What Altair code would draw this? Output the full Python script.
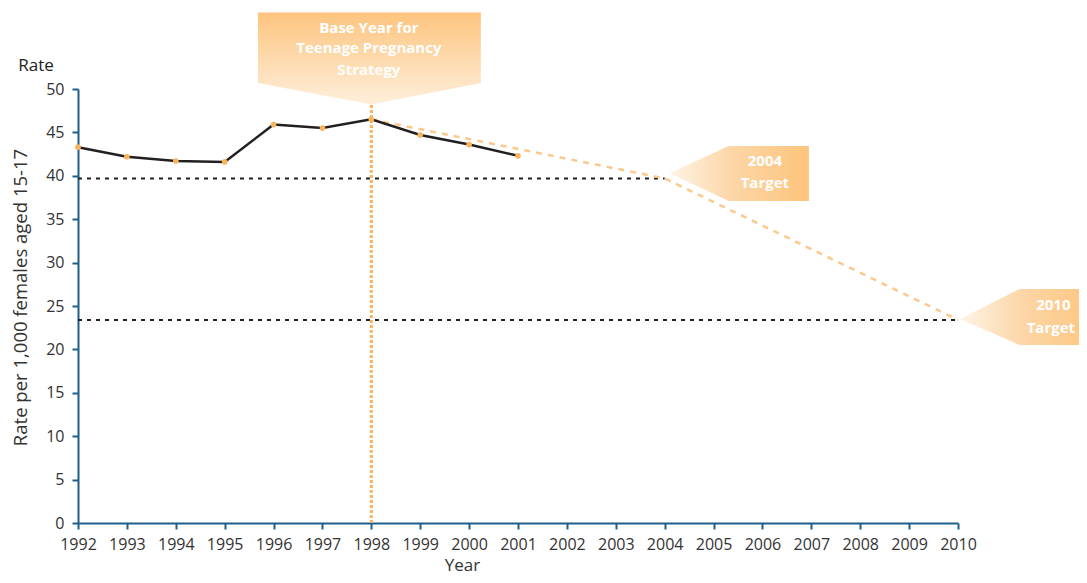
import altair as alt
import pandas as pd

# ---- data ----
years = [1992, 1993, 1994, 1995, 1996, 1997, 1998, 1999, 2000, 2001]
rates = [43.3, 42.2, 41.7, 41.6, 45.9, 45.5, 46.5, 44.7, 43.6, 42.3]

target_years = [1998, 2004, 2010]
target_rates = [46.5, 39.7, 23.4]

ref_start = [1992, 1992]
ref_end = [2004, 2010]
ref_level = [39.7, 23.4]

base_year = 1998
base_line_top = 49

# callout shapes (data coordinates)
base_x = [1995.68, 1998.0, 2000.24]
base_top = [58.8, 58.8, 58.8]
base_bottom = [50.7, 48.2, 50.7]

tgt_group = ["2004", "2004", "2004", "2010", "2010", "2010"]
tgt_x = [2004.1, 2005.31, 2006.95, 2010.04, 2011.26, 2012.9]
tgt_top = [40.3, 43.43, 43.43, 23.5, 26.96, 26.96]
tgt_bottom = [40.3, 37.1, 37.1, 23.5, 20.5, 20.5]

label_text = ["Base Year for", "Teenage Pregnancy", "Strategy", "2004", "Target", "2010", "Target"]
label_x = [1997.95, 1997.95, 1997.95, 2006.05, 2006.05, 2011.95, 2011.9]
label_y = [57.0, 54.7, 52.2, 41.7, 39.2, 25.1, 22.5]

FONT = "Open Sans"
AXIS_BLUE = "#1d5e8a"
ORANGE = "#F8B35C"
LIGHT_ORANGE = "#FCC98C"
DARK = "#231f20"

x_axis = alt.Axis(
    values=[1992 + i * 0.5 for i in range(37)],
    labelExpr="datum.value % 1 == 0 ? datum.label : ''",
    format="d", labelAngle=0, grid=False, labelOverlap=False, labelFlush=False,
    domainColor=AXIS_BLUE, domainWidth=2, tickColor=AXIS_BLUE, tickWidth=2, tickSize=6,
    labelFont=FONT, labelFontSize=16, labelColor="#333333", labelPadding=7,
    title="Year", titleFont=FONT, titleFontSize=17, titleFontWeight="normal", titleColor="#333333",
    titleX=384, titleY=51, titleAnchor="middle", titleBaseline="bottom",
)
y_axis = alt.Axis(
    values=list(range(0, 51, 5)), grid=False,
    domainColor=AXIS_BLUE, domainWidth=2, tickColor=AXIS_BLUE, tickWidth=2, tickSize=6,
    labelFont=FONT, labelFontSize=16, labelColor="#333333", labelPadding=8,
    title="Rate per 1,000 females aged 15-17", titleFont=FONT, titleFontSize=18.5,
    titleFontWeight="normal", titleColor="#333333",
    titleX=-58, titleY=208, titleAngle=-90, titleAlign="center", titleBaseline="middle",
)
xs = alt.Scale(domain=[1992, 2010], nice=False, zero=False)
ys = alt.Scale(domain=[0, 50], nice=False, zero=True)


def X(field):
    return alt.X(field, type="quantitative", scale=xs, axis=x_axis)


def Y(field):
    return alt.Y(field, type="quantitative", scale=ys, axis=y_axis)


line_df = pd.DataFrame({"Year": years, "Rate": rates})
traj_df = pd.DataFrame({"Year": target_years, "Rate": target_rates})
ref_df = pd.DataFrame({"Year": ref_start, "Year2": ref_end, "Rate": ref_level})
base_df = pd.DataFrame({"Year": [base_year], "Rate": [0], "Rate2": [base_line_top]})
base_call_df = pd.DataFrame({"Year": base_x, "Rate": base_top, "Rate2": base_bottom})
tgt_df = pd.DataFrame({"g": tgt_group, "Year": tgt_x, "Rate": tgt_top, "Rate2": tgt_bottom})
lab_df = pd.DataFrame({"Year": label_x, "Rate": label_y, "t": label_text})
rate_df = pd.DataFrame({"Year": [1991.14], "Rate": [52.07], "t": ["Rate"]})

refs = alt.Chart(ref_df).mark_rule(color=DARK, strokeWidth=2, strokeDash=[4, 5]).encode(
    x=X("Year"), x2="Year2", y=Y("Rate"))

base_rule = alt.Chart(base_df).mark_rule(color=ORANGE, strokeWidth=3, strokeDash=[3, 2]).encode(
    x=X("Year"), y=Y("Rate"), y2="Rate2")

traj = alt.Chart(traj_df).mark_line(color=LIGHT_ORANGE, strokeWidth=2.5, strokeDash=[6, 6]).encode(
    x=X("Year"), y=Y("Rate"))

line = alt.Chart(line_df).mark_line(color=DARK, strokeWidth=2.5).encode(
    x=X("Year"), y=Y("Rate"))

pts = alt.Chart(line_df).mark_circle(color=ORANGE, size=32, opacity=1).encode(
    x=X("Year"), y=Y("Rate"))

base_call = alt.Chart(base_call_df).mark_area(
    clip=False,
    color=alt.Gradient(gradient="linear", x1=0, x2=0, y1=0, y2=1,
                       stops=[alt.GradientStop(color="#FDC47E", offset=0),
                              alt.GradientStop(color="#FEEFDB", offset=1)]),
).encode(x=X("Year"), y=Y("Rate"), y2="Rate2")

tgt_call = alt.Chart(tgt_df).mark_area(
    clip=False,
    color=alt.Gradient(gradient="linear", x1=0, x2=1, y1=0, y2=0,
                       stops=[alt.GradientStop(color="#FEF4E6", offset=0),
                              alt.GradientStop(color="#FCD6A6", offset=0.45),
                              alt.GradientStop(color="#FDC47C", offset=1)]),
).encode(x=X("Year"), y=Y("Rate"), y2="Rate2", detail="g:N")

labels = alt.Chart(lab_df).mark_text(
    font=FONT, fontSize=15, fontWeight="bold", color="white", align="center",
    baseline="middle", clip=False,
).encode(x=X("Year"), y=Y("Rate"), text="t:N")

rate_lbl = alt.Chart(rate_df).mark_text(
    font=FONT, fontSize=17, color="#222222", align="center", baseline="alphabetic", clip=False,
).encode(x=X("Year"), y=Y("Rate"), text="t:N")

chart = alt.layer(refs, base_rule, traj, line, pts, base_call, tgt_call, labels, rate_lbl).properties(
    width=880, height=434,
    padding={"left": 70, "top": 81, "right": 121, "bottom": 52},
    autosize=alt.AutoSizeParams(type="none"),
    background="white",
).configure_view(stroke=None)

chart.save("out.html", embed_options={"renderer": "svg", "actions": False})
